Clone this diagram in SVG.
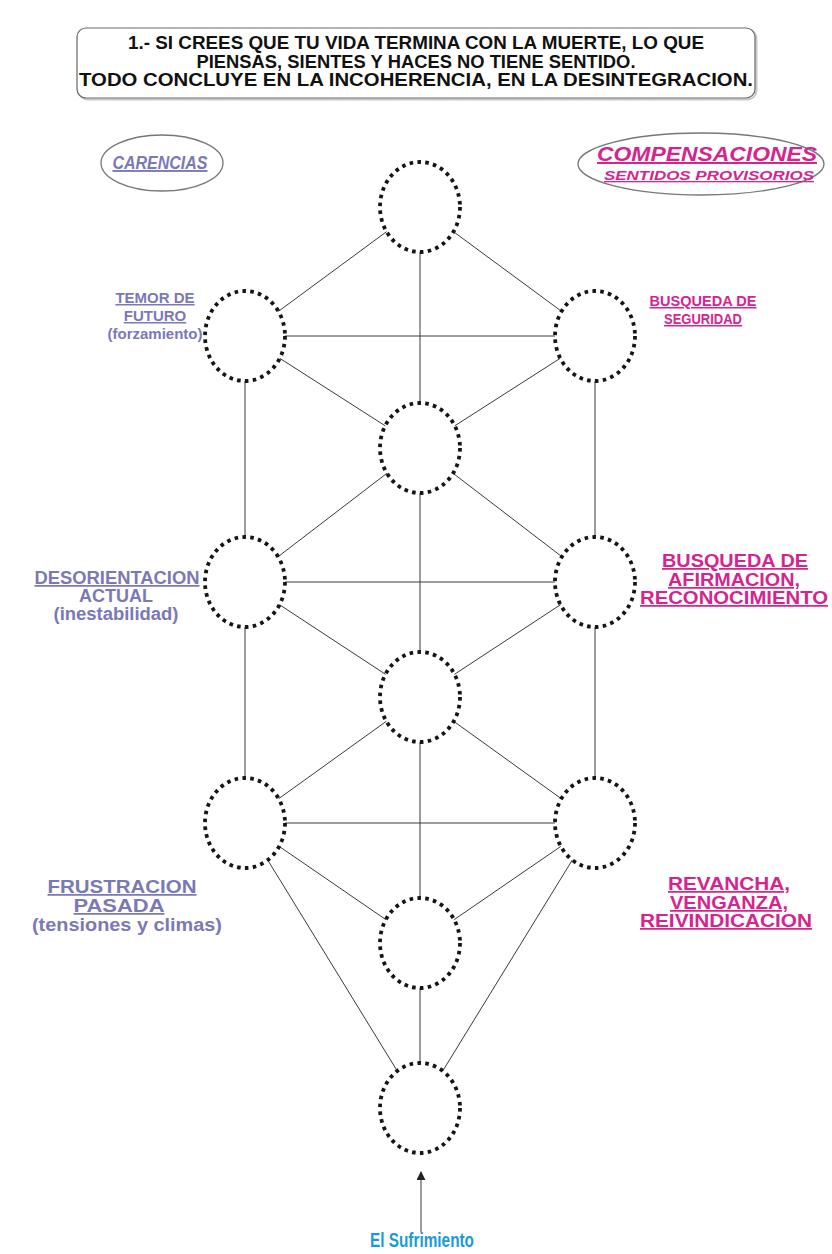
<svg xmlns="http://www.w3.org/2000/svg" width="832" height="1254" viewBox="0 0 832 1254">
<defs>
<style>
.node{fill:none;stroke:#151515;stroke-width:3.8;stroke-dasharray:3.6 4.3}
.edge{stroke:#3a3a3a;stroke-width:1;fill:none}
.t{font-family:"Liberation Sans",Arial,sans-serif;font-weight:bold;text-anchor:middle}
.title{font-size:18px;fill:#111}
.car{fill:#7b78b8;font-size:17.5px}
.comp{fill:#d6248f;font-size:17.5px}
.u{text-decoration:underline}
.it{font-style:italic}
</style>
<marker id="arr" viewBox="0 0 10 10" refX="9" refY="5" markerWidth="9" markerHeight="9" orient="auto" markerUnits="userSpaceOnUse">
<path d="M0,0 L10,5 L0,10 z" fill="#222"/>
</marker>
</defs>
<rect width="832" height="1254" fill="#fff"/>

<g id="title">
<rect x="78.5" y="29.5" width="678" height="70" rx="9" fill="none" stroke="#c8c8c8" stroke-width="2"/>
<rect x="77" y="28" width="678" height="70" rx="9" fill="#fff" stroke="#666" stroke-width="1.2"/>
<text class="t title" x="416" y="49" textLength="576" lengthAdjust="spacingAndGlyphs">1.- SI CREES QUE TU VIDA TERMINA CON LA MUERTE, LO QUE</text>
<text class="t title" x="416" y="67.5" textLength="439" lengthAdjust="spacingAndGlyphs">PIENSAS, SIENTES Y HACES NO TIENE SENTIDO.</text>
<text class="t title" x="416" y="86" textLength="674" lengthAdjust="spacingAndGlyphs">TODO CONCLUYE EN LA INCOHERENCIA, EN LA DESINTEGRACION.</text>
</g>

<g id="carencias">
<ellipse cx="162" cy="163" rx="61" ry="28" fill="#fff" stroke="#777" stroke-width="1.3"/>
<text class="t car it u" x="160" y="169" style="font-size:19px" textLength="95" lengthAdjust="spacingAndGlyphs">CARENCIAS</text>
</g>

<g id="compensaciones">
<ellipse cx="701" cy="164" rx="123" ry="31" fill="#fff" stroke="#777" stroke-width="1.3"/>
<text class="t comp it u" x="707" y="161" style="font-size:20px" textLength="220" lengthAdjust="spacingAndGlyphs">COMPENSACIONES</text>
<text class="t comp it u" x="709" y="180" style="font-size:13px" textLength="210" lengthAdjust="spacingAndGlyphs">SENTIDOS PROVISORIOS</text>
</g>

<g id="connectors">
<line class="edge" x1="386.5" y1="231.7" x2="278.5" y2="311.3"/>
<line class="edge" x1="453.5" y1="231.7" x2="561.5" y2="311.3"/>
<line class="edge" x1="420" y1="252" x2="420" y2="403"/>
<line class="edge" x1="285" y1="336" x2="555" y2="336"/>
<line class="edge" x1="279.8" y1="358.3" x2="385.2" y2="425.8"/>
<line class="edge" x1="560.2" y1="358.3" x2="454.8" y2="425.8"/>
<line class="edge" x1="245" y1="381" x2="245" y2="537"/>
<line class="edge" x1="595" y1="381" x2="595" y2="537"/>
<line class="edge" x1="386.9" y1="473.3" x2="278.1" y2="556.7"/>
<line class="edge" x1="453.1" y1="473.3" x2="561.9" y2="556.7"/>
<line class="edge" x1="420" y1="493" x2="420" y2="652"/>
<line class="edge" x1="285" y1="582" x2="555" y2="582"/>
<line class="edge" x1="279.5" y1="604.7" x2="385.5" y2="674.3"/>
<line class="edge" x1="560.5" y1="604.7" x2="454.5" y2="674.3"/>
<line class="edge" x1="245" y1="627" x2="245" y2="778"/>
<line class="edge" x1="595" y1="627" x2="595" y2="778"/>
<line class="edge" x1="386.3" y1="721.3" x2="278.7" y2="798.7"/>
<line class="edge" x1="453.7" y1="721.3" x2="561.3" y2="798.7"/>
<line class="edge" x1="420" y1="742" x2="420" y2="898"/>
<line class="edge" x1="285" y1="823" x2="555" y2="823"/>
<line class="edge" x1="279.2" y1="846.4" x2="385.8" y2="919.6"/>
<line class="edge" x1="560.8" y1="846.4" x2="454.2" y2="919.6"/>
<line class="edge" x1="267.7" y1="860" x2="397.3" y2="1071"/>
<line class="edge" x1="572.3" y1="860" x2="442.7" y2="1071"/>
<line class="edge" x1="420" y1="988" x2="420" y2="1063"/>
<line class="edge" x1="421" y1="1232" x2="421" y2="1172" stroke="#333" stroke-width="1.3" marker-end="url(#arr)"/>
</g>

<g id="n-top"><ellipse class="node" cx="420" cy="207" rx="40" ry="45"/></g>
<g id="n-left-upper"><ellipse class="node" cx="245" cy="336" rx="40" ry="45"/></g>
<g id="n-right-upper"><ellipse class="node" cx="595" cy="336" rx="40" ry="45"/></g>
<g id="n-mid-1"><ellipse class="node" cx="420" cy="448" rx="40" ry="45"/></g>
<g id="n-left-mid"><ellipse class="node" cx="245" cy="582" rx="40" ry="45"/></g>
<g id="n-right-mid"><ellipse class="node" cx="595" cy="582" rx="40" ry="45"/></g>
<g id="n-mid-2"><ellipse class="node" cx="420" cy="697" rx="40" ry="45"/></g>
<g id="n-left-low"><ellipse class="node" cx="245" cy="823" rx="40" ry="45"/></g>
<g id="n-right-low"><ellipse class="node" cx="595" cy="823" rx="40" ry="45"/></g>
<g id="n-mid-3"><ellipse class="node" cx="420" cy="943" rx="40" ry="45"/></g>
<g id="n-bottom"><ellipse class="node" cx="420" cy="1108" rx="40" ry="45"/></g>

<g id="label-temor">
<text class="t car u" x="155" y="303" style="font-size:15px">TEMOR DE</text>
<text class="t car u" x="155" y="321" style="font-size:15px">FUTURO</text>
<text class="t car" x="155" y="339" style="font-size:15px">(forzamiento)</text>
</g>
<g id="label-seguridad">
<text class="t comp u" x="703" y="306" style="font-size:15px" textLength="107" lengthAdjust="spacingAndGlyphs">BUSQUEDA DE</text>
<text class="t comp u" x="703" y="324" style="font-size:15px" textLength="78" lengthAdjust="spacingAndGlyphs">SEGURIDAD</text>
</g>
<g id="label-desorientacion">
<text class="t car u" x="117" y="584" textLength="165" lengthAdjust="spacingAndGlyphs">DESORIENTACION</text>
<text class="t car" x="116" y="602" textLength="74" lengthAdjust="spacingAndGlyphs">ACTUAL</text>
<text class="t car" x="116" y="620" textLength="125" lengthAdjust="spacingAndGlyphs">(inestabilidad)</text>
</g>
<g id="label-afirmacion">
<text class="t comp u" x="735" y="567" textLength="146" lengthAdjust="spacingAndGlyphs">BUSQUEDA DE</text>
<text class="t comp u" x="734" y="586" textLength="132" lengthAdjust="spacingAndGlyphs">AFIRMACION,</text>
<text class="t comp u" x="734" y="604" textLength="188" lengthAdjust="spacingAndGlyphs">RECONOCIMIENTO</text>
</g>
<g id="label-frustracion">
<text class="t car u" x="122" y="893" textLength="149" lengthAdjust="spacingAndGlyphs">FRUSTRACION</text>
<text class="t car u" x="119" y="912" textLength="91" lengthAdjust="spacingAndGlyphs">PASADA</text>
<text class="t car" x="127" y="931" textLength="190" lengthAdjust="spacingAndGlyphs">(tensiones y climas)</text>
</g>
<g id="label-revancha">
<text class="t comp u" x="729" y="890" textLength="122" lengthAdjust="spacingAndGlyphs">REVANCHA,</text>
<text class="t comp u" x="729" y="909" textLength="118" lengthAdjust="spacingAndGlyphs">VENGANZA,</text>
<text class="t comp u" x="726" y="927" textLength="172" lengthAdjust="spacingAndGlyphs">REIVINDICACION</text>
</g>
<g id="label-sufrimiento">
<text class="t" x="422" y="1247" style="font-size:20px;fill:#1b9ad7" textLength="104" lengthAdjust="spacingAndGlyphs">El Sufrimiento</text>
</g>
</svg>
